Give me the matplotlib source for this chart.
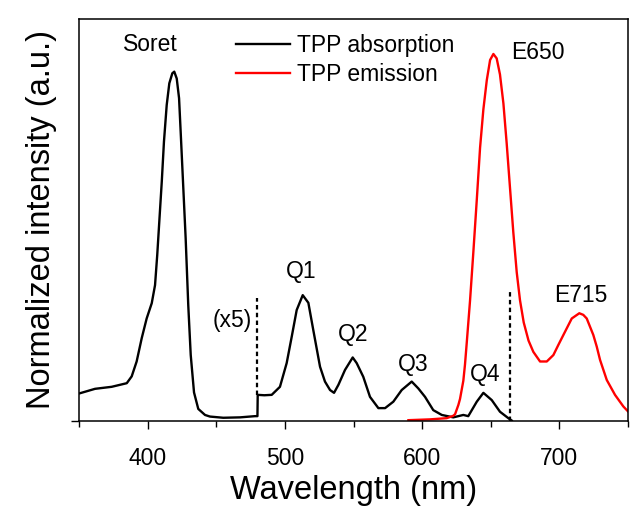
import numpy as np
import matplotlib
matplotlib.use("Agg")
from matplotlib import pyplot as plt
from matplotlib.ticker import MultipleLocator

plt.rcParams['font.family'] = ['Liberation Sans', 'DejaVu Sans']

# 吸收光谱 (black), 数值读自原图
abs_wl = [350.7, 361.7, 373.8, 379.9, 384.8, 388.4, 392.0, 395.7, 399.3, 403.0,
          405.4, 407.0, 408.5, 410.3, 411.9, 413.9, 415.8, 418.0, 419.4, 421.2,
          422.9, 424.3, 426.0, 427.7, 429.6, 431.4, 433.8, 436.9, 441.8, 445.4,
          455.1, 467.3, 478.2, 480.0, 480.2, 485.0, 490.4,
          496.4, 501.3, 505.0, 508.6, 513.0, 517.1, 520.7, 525.6, 529.2, 532.9,
          535.8, 539.0, 543.8, 549.4, 552.3, 557.1, 562.0, 568.1, 573.0, 579.0,
          585.1, 592.4, 597.2, 602.1, 608.1, 614.3, 622.7, 630.0, 633.6, 639.8,
          644.6, 650.7, 656.7, 662.8, 665.3]
abs_val = [0.069, 0.080, 0.085, 0.090, 0.094, 0.111, 0.148, 0.206, 0.255, 0.293,
           0.338, 0.413, 0.496, 0.595, 0.695, 0.786, 0.840, 0.865, 0.869, 0.852,
           0.803, 0.703, 0.579, 0.455, 0.288, 0.164, 0.071, 0.030, 0.015, 0.011,
           0.008, 0.009, 0.012, 0.012, 0.065, 0.064, 0.065,
           0.085, 0.144, 0.210, 0.276, 0.313, 0.294, 0.226, 0.135, 0.098, 0.077,
           0.070, 0.090, 0.127, 0.158, 0.144, 0.110, 0.060, 0.032, 0.032, 0.048,
           0.077, 0.098, 0.081, 0.060, 0.027, 0.015, 0.009, 0.015, 0.012, 0.048,
           0.070, 0.052, 0.023, 0.007, 0.001]

# 发射光谱 (red)
em_wl = [590.0, 605.7, 617.9, 622.7, 624.0, 626.4, 627.6, 630.0, 631.2, 632.5,
         634.9, 637.3, 639.8, 642.2, 644.6, 647.1, 649.5, 651.9, 654.3, 656.7,
         659.2, 661.6, 664.0, 666.4, 668.9, 671.3, 674.0, 677.5, 681.0, 685.9,
         690.8, 695.6, 699.2, 702.9, 709.0, 714.5, 717.4, 719.9, 724.7, 727.2,
         729.6, 734.5, 740.5, 746.6, 750.2]
em_val = [0.002, 0.004, 0.007, 0.013, 0.017, 0.040, 0.055, 0.100, 0.140, 0.195,
          0.300, 0.420, 0.550, 0.680, 0.775, 0.848, 0.898, 0.913, 0.902, 0.862,
          0.790, 0.690, 0.580, 0.470, 0.370, 0.300, 0.245, 0.200, 0.172, 0.148,
          0.148, 0.164, 0.189, 0.214, 0.255, 0.268, 0.264, 0.255, 0.214, 0.185,
          0.152, 0.102, 0.065, 0.036, 0.023]

# 虚线 (x, y下, y上)
dash_x = [480.0, 664.0]
dash_lo = [0.065, 0.0]
dash_hi = [0.305, 0.326]

# 峰标注
peak_names = ['Soret', 'Q1', 'Q2', 'Q3', 'Q4', 'E650', 'E715', '(x5)']
peak_x = [401.7, 511.7, 549.6, 593.4, 645.6, 684.4, 715.8, 461.3]
peak_y = [0.937, 0.371, 0.214, 0.141, 0.116, 0.917, 0.313, 0.249]

fig = plt.figure(figsize=(6.34, 5.08), dpi=100)
ax = fig.add_axes([0.1246, 0.1713, 0.866, 0.7913])

ax.plot(abs_wl, abs_val, color='black', lw=1.7, label='TPP absorption')
ax.plot(em_wl, em_val, color='red', lw=1.7, label='TPP emission')
for x, lo, hi in zip(dash_x, dash_lo, dash_hi):
    ax.plot([x, x], [lo, hi], color='black', lw=1.6, ls=(0, (2, 1.5)))

for name, x, y in zip(peak_names, peak_x, peak_y):
    ax.text(x, y, name, fontsize=16.5, ha='center', va='center')

ax.set_xlim(350, 750)
ax.set_ylim(0, 1)
ax.xaxis.set_major_locator(MultipleLocator(100))
ax.xaxis.set_minor_locator(MultipleLocator(50))
ax.set_yticks([0])
ax.set_yticklabels([''])
ax.tick_params(axis='both', which='major', direction='out', length=6, width=1,
               labelsize=16.5)
ax.tick_params(axis='x', which='major', pad=12.5)
ax.tick_params(axis='x', which='minor', direction='out', length=4, width=1)
for s in ax.spines.values():
    s.set_linewidth(1.1)

ax.set_xlabel('Wavelength (nm)', fontsize=23.5, labelpad=3.5)
ax.set_ylabel('Normalized intensity (a.u.)', fontsize=23.5, labelpad=6.4)

ax.legend(loc='upper left', bbox_to_anchor=(0.286, 0.962), frameon=False,
          fontsize=16.5, handlelength=2.35, handletextpad=0.3,
          labelspacing=0.23, borderpad=0, borderaxespad=0)

fig.savefig('out.png', dpi=100)
